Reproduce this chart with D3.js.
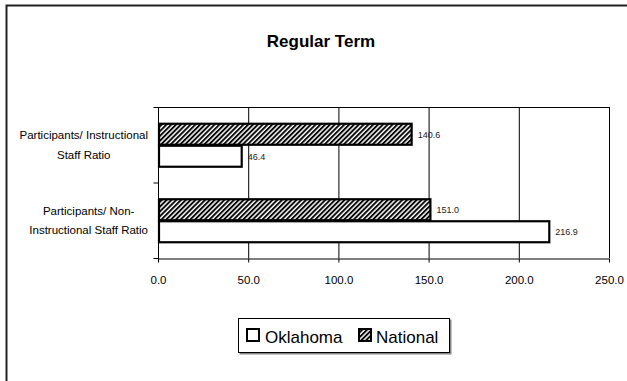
<!DOCTYPE html>
<html lang="en">
<head>
  <meta charset="UTF-8">
  <script src="https://d3js.org/d3.v7.min.js"></script>
  <title>Regular Term</title>
  <style>
    body { margin: 0; background: #fff; }
    text { font-family: "Liberation Sans", Arial, sans-serif; }
  </style>
</head>
<body>
  <script>
    var categories = ['Participants/ Instructional\nStaff Ratio', 'Participants/ Non-\nInstructional Staff Ratio'];
    var seriesNames = ['Oklahoma', 'National'];
    var oklahoma = [46.4, 216.9];
    var national = [140.6, 151.0];
    var xTicks = [0, 50, 100, 150, 200, 250];

    var W = 627, H = 381;
    var plot = {left: 158, right: 609, top: 107, bottom: 258};

    var svg = d3.select('body')
      .append('svg')
      .attr('width', W)
      .attr('height', H);

    // hatch pattern for National
    var defs = svg.append('defs');
    defs.append('pattern')
      .attr('id', 'hatch')
      .attr('patternUnits', 'userSpaceOnUse')
      .attr('width', 3.4)
      .attr('height', 3.4)
      .attr('patternTransform', 'rotate(45)')
      .call(function(p) {
        p.append('rect').attr('width', 3.4).attr('height', 3.4).attr('fill', '#fff');
        p.append('line').attr('x1', 1).attr('y1', 0).attr('x2', 1).attr('y2', 3.4)
          .attr('stroke', '#000').attr('stroke-width', 1.9);
      });

    // outer frame
    svg.append('path')
      .attr('d', 'M6.5,' + H + 'V5.5H' + W)
      .attr('fill', 'none')
      .attr('stroke', '#222')
      .attr('stroke-width', 2);

    svg.append('text')
      .attr('x', 321)
      .attr('y', 47)
      .attr('text-anchor', 'middle')
      .attr('font-size', '17px')
      .attr('font-weight', 'bold')
      .text('Regular Term');

    var data = categories.map(function(c, i) {
      return {cat: c, Oklahoma: oklahoma[i], National: national[i]};
    });

    var x = d3.scaleLinear()
      .domain([0, 250])
      .range([plot.left, plot.right]);

    var y0 = d3.scaleBand()
      .domain(categories)
      .range([plot.top, plot.bottom]);

    var y1 = d3.scaleBand()
      .domain(['National', 'Oklahoma'])
      .range([0, y0.bandwidth()])
      .paddingOuter(0.716);

    // gridlines
    svg.append('g')
      .selectAll('line')
      .data(xTicks.slice(1))
      .enter().append('line')
        .attr('x1', function(d) { return x(d) + 0.5; })
        .attr('x2', function(d) { return x(d) + 0.5; })
        .attr('y1', plot.top)
        .attr('y2', plot.bottom)
        .attr('stroke', '#000')
        .attr('stroke-width', 1);

    // plot top border
    svg.append('line')
      .attr('x1', plot.left).attr('x2', plot.right + 1)
      .attr('y1', plot.top + 0.5).attr('y2', plot.top + 0.5)
      .attr('stroke', '#000');

    // bars
    var groups = svg.append('g')
      .selectAll('g')
      .data(data)
      .enter().append('g')
        .attr('transform', function(d) { return 'translate(0,' + y0(d.cat) + ')'; });

    groups.selectAll('rect')
      .data(function(d) {
        return seriesNames.map(function(k) { return {key: k, value: d[k]}; });
      })
      .enter().append('rect')
        .attr('x', x(0) + 1)
        .attr('y', function(d) { return y1(d.key) + 1; })
        .attr('width', function(d) { return x(d.value) - x(0) - 1; })
        .attr('height', y1.bandwidth() - 1)
        .attr('fill', function(d) { return d.key === 'National' ? 'url(#hatch)' : '#fff'; })
        .attr('stroke', '#000')
        .attr('stroke-width', 2.2);

    groups.selectAll('text.val')
      .data(function(d) {
        return seriesNames.map(function(k) { return {key: k, value: d[k]}; });
      })
      .enter().append('text')
        .attr('class', 'val')
        .attr('x', function(d) { return x(d.value) + 6; })
        .attr('y', function(d) { return y1(d.key) + y1.bandwidth() / 2 + 1; })
        .attr('dy', '0.35em')
        .attr('font-size', '9px')
        .attr('fill', '#222')
        .text(function(d) { return d.value.toFixed(1); });

    // x axis
    var xAxis = svg.append('g')
      .attr('transform', 'translate(0,' + (plot.bottom + 0.5) + ')')
      .call(d3.axisBottom(x).tickValues(xTicks).tickSize(4).tickSizeOuter(0)
        .tickFormat(function(d) { return d.toFixed(1); }));
    xAxis.select('.domain').attr('stroke', '#000');
    xAxis.selectAll('.tick line').attr('stroke', '#000');
    xAxis.selectAll('.tick text')
      .attr('y', 17)
      .attr('font-size', '11.5px')
      .attr('font-family', '"Liberation Sans", Arial, sans-serif')
      .attr('fill', '#000');

    // y axis (ticks between categories)
    var yAxisG = svg.append('g')
      .attr('transform', 'translate(' + (plot.left + 0.5) + ',0)');
    yAxisG.append('line')
      .attr('x1', 0).attr('x2', 0)
      .attr('y1', plot.top).attr('y2', plot.bottom + 1)
      .attr('stroke', '#000');
    var yTickPos = [plot.top, y0(categories[1]), plot.bottom];
    yAxisG.selectAll('line.tk')
      .data(yTickPos)
      .enter().append('line')
        .attr('class', 'tk')
        .attr('x1', -5).attr('x2', 0)
        .attr('y1', function(d) { return d + 0.5; })
        .attr('y2', function(d) { return d + 0.5; })
        .attr('stroke', '#000');

    // right border of plot
    svg.append('line')
      .attr('x1', plot.right + 0.5).attr('x2', plot.right + 0.5)
      .attr('y1', plot.top).attr('y2', plot.bottom)
      .attr('stroke', '#000');

    // category labels, centred within a block right-aligned at x=148
    categories.forEach(function(c) {
      var lines = c.split('\n');
      var g = svg.append('g');
      var texts = g.selectAll('text')
        .data(lines)
        .enter().append('text')
          .attr('font-size', '11.5px')
          .attr('text-anchor', 'middle')
          .attr('y', function(d, i) {
            return y0(c) + y0.bandwidth() / 2 + (i - (lines.length - 1) / 2) * 19.5;
          })
          .attr('dy', '0.35em')
          .text(function(d) { return d; });
      var maxW = 0;
      texts.each(function() { maxW = Math.max(maxW, this.getComputedTextLength()); });
      texts.attr('x', 148 - maxW / 2);
    });

    // legend
    var lg = svg.append('g').attr('transform', 'translate(238,318)');
    lg.append('rect')
      .attr('x', 1.5).attr('y', 1.5).attr('width', 212).attr('height', 35)
      .attr('fill', '#888');
    lg.append('rect')
      .attr('x', 0.5).attr('y', 0.5).attr('width', 211).attr('height', 34)
      .attr('fill', '#fff').attr('stroke', '#000');
    var legendItems = [{key: 'Oklahoma', sx: 8, tx: 27}, {key: 'National', sx: 120, tx: 138}];
    legendItems.forEach(function(it) {
      lg.append('rect')
        .attr('x', it.sx + 1).attr('y', 11)
        .attr('width', 12).attr('height', 12)
        .attr('fill', it.key === 'National' ? 'url(#hatch)' : '#fff')
        .attr('stroke', '#000')
        .attr('stroke-width', 2);
      lg.append('text')
        .attr('x', it.tx).attr('y', 25)
        .attr('font-size', '17px')
        .text(it.key);
    });
  </script>
</body>
</html>
